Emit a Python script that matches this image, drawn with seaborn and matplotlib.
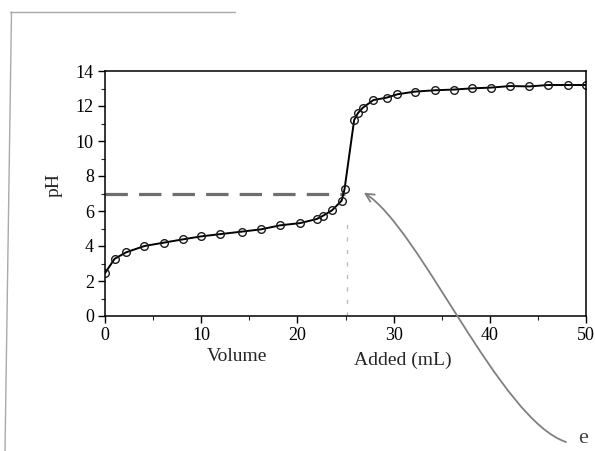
import matplotlib
matplotlib.use("Agg")
import matplotlib.pyplot as plt
from matplotlib.lines import Line2D
from matplotlib.patches import FancyArrowPatch
from matplotlib.path import Path
from matplotlib.ticker import MultipleLocator
import seaborn as sns
import pandas as pd

# ---- data ----
volume_ml = [0, 1.0, 2.2, 4.1, 6.1, 8.1, 10.0, 12.0, 14.2, 16.2, 18.2, 20.3,
             22.0, 22.7, 23.6, 24.6, 24.9, 25.9, 26.3, 26.8, 27.9, 29.3,
             30.4, 32.2, 34.3, 36.3, 38.2, 40.1, 42.1, 44.1, 46.1, 48.1, 50.0]
ph_values = [2.45, 3.27, 3.64, 4.00, 4.19, 4.38, 4.55, 4.68, 4.82, 4.95, 5.18, 5.31,
             5.54, 5.74, 6.04, 6.59, 7.25, 11.2, 11.6, 11.9, 12.34, 12.48,
             12.67, 12.82, 12.90, 12.94, 13.01, 13.05, 13.14, 13.12, 13.2, 13.2, 13.2]
equiv_volume = 25.2
equiv_ph = 7.0
arrow_tip = (26.9, 7.05)
x_ticks = [0, 10, 20, 30, 40, 50]
y_ticks = [0, 2, 4, 6, 8, 10, 12, 14]

df = pd.DataFrame({"Volume": volume_ml, "pH": ph_values})

sns.set_style("ticks")
plt.rcParams["font.family"] = ["Liberation Serif", "DejaVu Serif"]

W, H = 595, 451
fig = plt.figure(figsize=(5.95, 4.51), dpi=100)
ax_left, ax_right, ax_top, ax_bottom = 105, 586, 71, 316
ax = fig.add_axes([ax_left / W, 1 - ax_bottom / H,
                   (ax_right - ax_left) / W, (ax_bottom - ax_top) / H])

sns.lineplot(data=df, x="Volume", y="pH", ax=ax, color="black", linewidth=1.4,
             marker="o", markersize=5.5, markerfacecolor="none",
             markeredgecolor="#1a1a1a", markeredgewidth=1.0)

# dashed equivalence guides
ax.plot([0, equiv_volume - 0.3], [equiv_ph, equiv_ph], color="#6e6e6e",
        linewidth=2.3, dashes=(7, 3.5), zorder=1)
ax.plot([equiv_volume, equiv_volume], [0, equiv_ph - 1.6], color="#bdbdbd",
        linewidth=1.0, dashes=(3, 6), zorder=1)

ax.set_xlim(0, 50)
ax.set_ylim(0, 14)
ax.set_xticks(x_ticks)
ax.set_yticks(y_ticks)
ax.xaxis.set_minor_locator(MultipleLocator(5))
ax.yaxis.set_minor_locator(MultipleLocator(1))
ax.tick_params(axis="both", which="major", direction="out", length=5, width=1,
               labelsize=13, colors="black", pad=3)
ax.tick_params(axis="both", which="minor", direction="out", length=3, width=0.8)
for s in ax.spines.values():
    s.set_visible(True)
    s.set_color("black")
    s.set_linewidth(1.1)

ax.set_xlabel("")
ax.set_ylabel("pH", fontsize=14)
ax.yaxis.set_label_coords(-0.088, 0.535)
ax.text(0.275, -0.165, "Volume", transform=ax.transAxes, ha="center", va="center",
        fontsize=14)
ax.text(0.62, -0.18, "Added (mL)", transform=ax.transAxes, ha="center", va="center",
        fontsize=14)

# hand-drawn pen annotation on the scanned page (S-shaped stroke with arrow head)
fig.canvas.draw()
tip_disp = ax.transData.transform(arrow_tip)
tip_px = (tip_disp[0], H - tip_disp[1])
tail_px = (566, 442)
stroke_px = [tail_px, (500, 420), (420, 228), tip_px]
verts = [(x / W, 1 - y / H) for x, y in stroke_px]
stroke = Path(verts, [Path.MOVETO, Path.CURVE4, Path.CURVE4, Path.CURVE4])
fig.add_artist(FancyArrowPatch(path=stroke, arrowstyle="->,head_length=6,head_width=3",
                               color="#808080", lw=1.3, transform=fig.transFigure))
fig.text(583 / W, 1 - 448 / H, "e", fontsize=16, color="#444444",
         ha="center", va="bottom")

# faint page border of the photocopy
fig.add_artist(Line2D([10 / W, 235 / W], [1 - 12 / H, 1 - 12 / H],
                      transform=fig.transFigure, color="#aaaaaa", linewidth=1))
fig.add_artist(Line2D([11.5 / W, 5 / W], [1 - 12 / H, 0],
                      transform=fig.transFigure, color="#aaaaaa", linewidth=1))

fig.savefig("out.png", dpi=100)
